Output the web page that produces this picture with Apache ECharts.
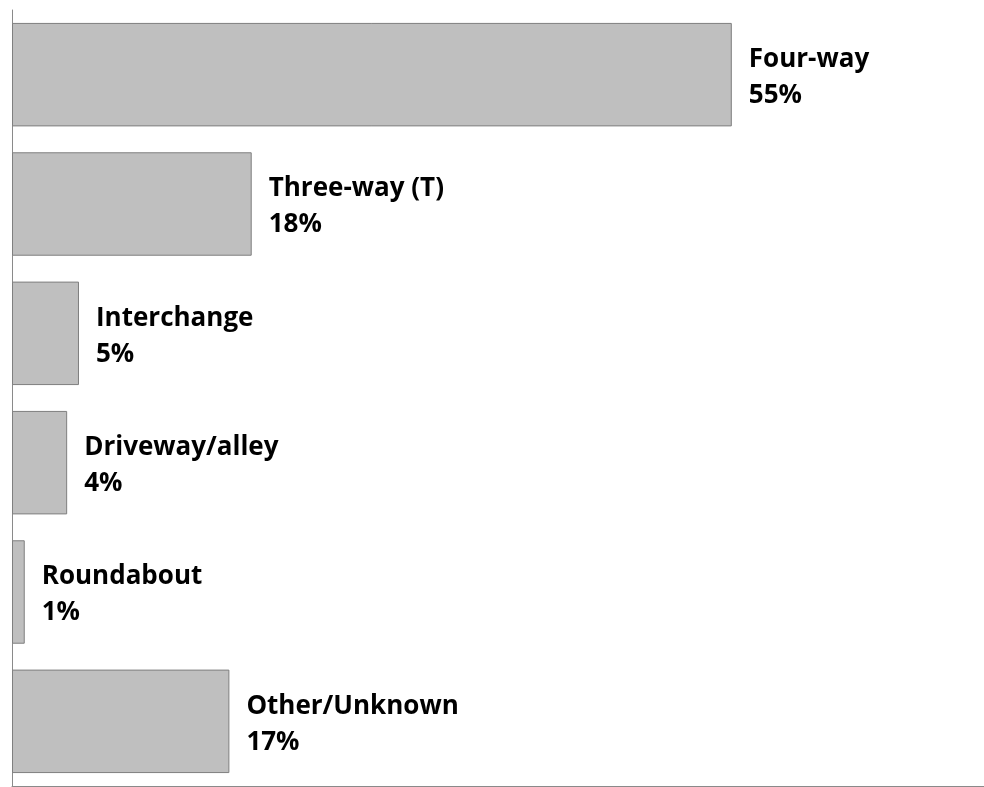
<!DOCTYPE html>
<html>
<head>
<meta charset="utf-8">
<script src="https://cdn.jsdelivr.net/npm/echarts@6/dist/echarts.min.js"></script>
<style>html,body{margin:0;padding:0;background:#fff;}#c{width:984px;height:787px;}</style>
</head>
<body>
<div id="c"></div>
<script>
const categories = ['Four-way', 'Three-way (T)', 'Interchange', 'Driveway/alley', 'Roundabout', 'Other/Unknown'];
const values = [54.8, 18.25, 5.1, 4.2, 0.97, 16.55];
const pctLabels = ['55%', '18%', '5%', '4%', '1%', '17%'];

const chart = echarts.init(document.getElementById('c'), null, {renderer: 'canvas'});
chart.setOption({
  animation: false,
  backgroundColor: '#ffffff',
  grid: {left: 12, right: 0, top: 10, bottom: 1, containLabel: false},
  xAxis: {
    type: 'value', min: 0, max: 74,
    axisLine: {show: true, lineStyle: {color: '#8a8a8a', width: 1}},
    axisTick: {show: false}, axisLabel: {show: false}, splitLine: {show: false}
  },
  yAxis: {
    type: 'category', data: categories, inverse: true,
    axisLine: {show: true, lineStyle: {color: '#8a8a8a', width: 1}},
    axisTick: {show: false}, axisLabel: {show: false}, splitLine: {show: false}
  },
  series: [{
    type: 'bar',
    data: values,
    barCategoryGap: '20%',
    itemStyle: {color: '#bfbfbf', borderColor: '#7f7f7f', borderWidth: 1},
    label: {
      show: true, position: 'right', distance: 17, offset: [0, 3],
      formatter: p => categories[p.dataIndex] + '\n' + pctLabels[p.dataIndex],
      fontFamily: 'Open Sans', fontWeight: 'bold', fontSize: 26,
      lineHeight: 36, color: '#000000', align: 'left'
    }
  }]
});
</script>
</body>
</html>
